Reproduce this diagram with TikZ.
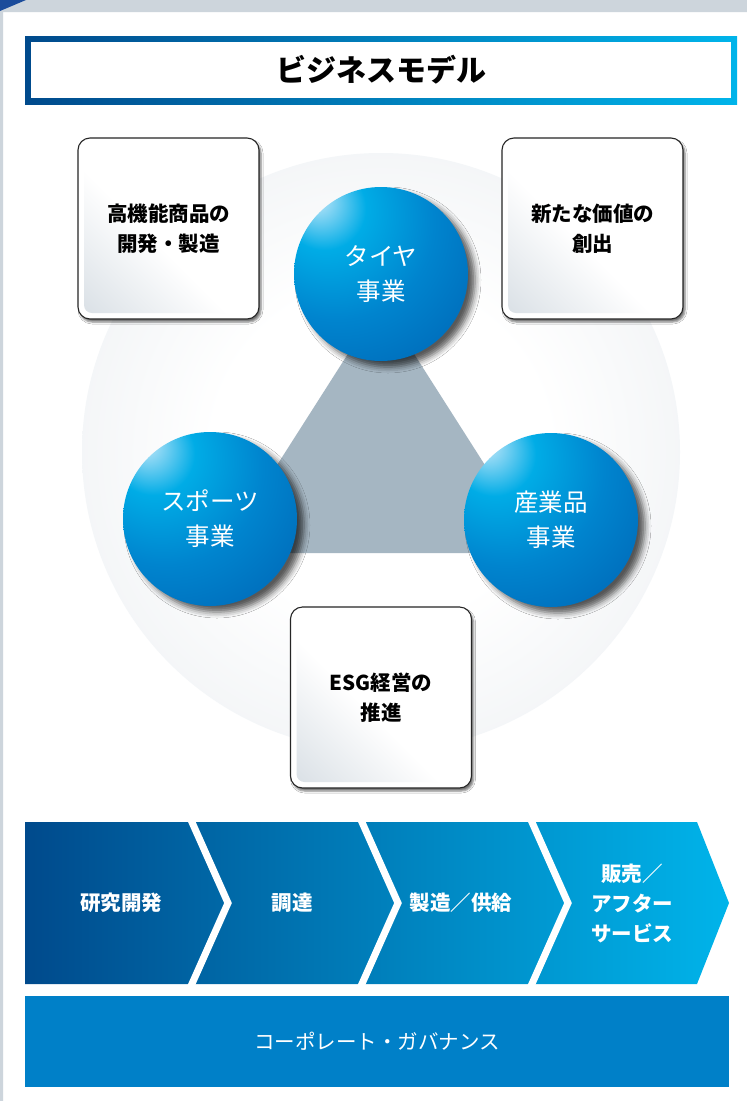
\documentclass[tikz,border=0pt]{standalone}
\usepackage{fontspec}
\setmainfont{Noto Sans CJK JP}
\usetikzlibrary{shadows.blur}
\definecolor{navy}{RGB}{0,74,140}
\definecolor{cyanb}{RGB}{0,180,234}
\definecolor{bandgray}{RGB}{205,213,220}
\definecolor{cornerblue}{RGB}{27,76,155}
\definecolor{discgray}{RGB}{220,226,231}
\definecolor{trigray}{RGB}{165,182,194}
\definecolor{boxgray}{RGB}{196,206,215}
\definecolor{govblue}{RGB}{0,128,200}
\definecolor{sphlt}{RGB}{150,218,245}
\definecolor{sphcy}{RGB}{0,172,230}
\definecolor{sphmid}{RGB}{0,132,206}
\definecolor{sphdp}{RGB}{0,98,178}
\definecolor{sphdk}{RGB}{0,64,142}
\pgfdeclareradialshading{discshade}{\pgfpoint{0bp}{0bp}}{color(0bp)=(white); color(14bp)=(white); color(50bp)=(discgray); color(60bp)=(discgray)}
\pgfdeclareradialshading{sphereshade}{\pgfpoint{-19bp}{22bp}}{color(0bp)=(white); color(3bp)=(sphlt); color(12bp)=(sphcy); color(28bp)=(sphmid); color(50bp)=(sphdp); color(70bp)=(sphdk); color(85bp)=(sphdk)}
\pgfdeclareverticalshading{boxshade}{100bp}{color(0bp)=(boxgray); color(45bp)=(white); color(100bp)=(white)}
\begin{document}
\begin{tikzpicture}[x=1pt, y=-1pt, line join=round,
	card/.style={draw=black!85, line width=1.1pt, fill=white, rounded corners=12pt, minimum width=181pt, minimum height=181pt, inner sep=0pt, align=center, font=\fontsize{20.5}{30}\selectfont\bfseries,
		blur shadow={shadow xshift=2pt, shadow yshift=-3pt, shadow blur radius=2pt, shadow opacity=55},
		path picture={\shade[shading=boxshade, shading angle=-45, rounded corners=8pt] ([shift={(6,-6)}]path picture bounding box.south west) rectangle ([shift={(-6,6)}]path picture bounding box.north east);}},
	ball/.style={circle, minimum size=174pt, inner sep=0pt, shade, shading=sphereshade, align=center, text=white, font=\fontsize{24.5}{35}\selectfont,
		blur shadow={shadow xshift=7pt, shadow yshift=-6pt, shadow blur radius=6pt, shadow opacity=65}},
	chevtext/.style={text=white, align=center, font=\fontsize{20.5}{30}\selectfont\bfseries}]
	\useasboundingbox (0,0) rectangle (747,1101);
	\fill[white] (0,0) rectangle (747,1101);
	\fill[bandgray] (0,0) rectangle (747,12) (0,12) rectangle (3,1101);
	\fill[cornerblue] (0,0) -- (26,0) -- (0,11) -- cycle;
	\node[minimum width=712pt, minimum height=68pt, inner sep=0pt, left color=navy, right color=cyanb, font=\fontsize{30}{36}\selectfont\bfseries,
		path picture={\fill[white] ([shift={(6,-6)}]path picture bounding box.south west) rectangle ([shift={(-6,6)}]path picture bounding box.north east);}] (title) at (381,70) {ビジネスモデル};
	\node[circle, minimum size=598pt, inner sep=0pt, shade, shading=discshade] (disc) at (381,452) {};
	\fill[trigray] (381,302) -- (221,553) -- (541,553) -- cycle;
	\node[card] (dev) at (168.5,228.5) {高機能商品の\\開発・製造};
	\node[card] (value) at (592.5,228.5) {新たな価値の\\創出};
	\node[card] (esg) at (381,697.5) {ESG経営の\\推進};
	\node[ball] (tire) at (381,274) {タイヤ\\事業};
	\node[ball] (sports) at (210,519) {スポーツ\\事業};
	\node[ball] (industry) at (551,520) {産業品\\事業};
	\shade[left color=navy, right color=cyanb] (25,822) -- (697,822) -- (729,903) -- (697,984) -- (25,984) -- cycle;
	\foreach \x in {192,362,532}
		\draw[white, line width=7pt, line join=miter] (\x-5,811) -- (\x+36,903) -- (\x-5,995);
	\node[chevtext] (rd) at (121,903) {研究開発};
	\node[chevtext] (proc) at (292,903) {調達};
	\node[chevtext] (mfg) at (461,903) {製造／供給};
	\node[chevtext] (sales) at (632,903) {販売／\\アフター\\サービス};
	\node[minimum width=704pt, minimum height=91pt, inner sep=0pt, fill=govblue, text=white, font=\fontsize{20.5}{30}\selectfont] (gov) at (377,1041.5) {コーポレート・ガバナンス};
\end{tikzpicture}
\end{document}
